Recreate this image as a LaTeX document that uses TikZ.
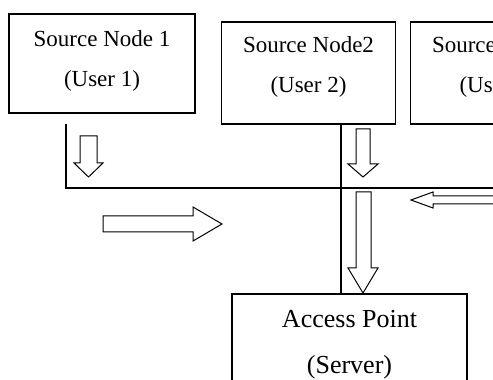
\documentclass[tikz,border=0pt]{standalone}
\usepackage{fontspec}
\setmainfont{Liberation Serif}

\begin{document}
\begin{tikzpicture}[x=1pt,y=1pt,every node/.style={draw, line width=1.3pt, align=center, inner sep=0pt},srcbox/.style={minimum width=174pt, minimum height=102pt, text depth=16pt, font=\fontsize{23}{40}\selectfont},apbox/.style={minimum width=235pt, minimum height=110pt, text depth=14pt, font=\fontsize{26}{46}\selectfont},busline/.style={line width=1.3pt},hollow/.style={draw, line width=1pt, fill=white, line join=miter}]
\useasboundingbox (0,0) rectangle (493,380);
\clip (0,0) rectangle (493,380);
\node[srcbox, minimum width=186pt, minimum height=99pt, text depth=9pt] (src1) at (102,316.5) {Source Node 1\\(User 1)};
\node[srcbox] (src2) at (308.5,307) {Source Node2\\(User 2)};
\node[srcbox] (src3) at (497.5,307) {Source Node3\\(User 3)};
\node[apbox] (ap) at (349.5,31) {Access Point\\(Server)};
% bus lines
\coordinate (start1) at (66,256);
\coordinate (corner) at (66,192);
\coordinate (busend) at (500,192);
\coordinate (drop) at (341,0);
\draw[busline] (start1) -- (corner) -- (busend);
\draw[busline] (src2.south -| drop) -- (ap.north -| drop);
% hollow arrows
\draw[hollow] (80,244) -- (97,244) -- (97,217) -- (103,217) -- (88.5,203) -- (74,217) -- (80,217) -- cycle;
\draw[hollow] (356,251) -- (370,251) -- (370,216) -- (378,216) -- (363,203) -- (348,216) -- (356,216) -- cycle;
\draw[hollow] (356,188) -- (371,188) -- (371,112) -- (378,112) -- (363,87) -- (348,112) -- (356,112) -- cycle;
\draw[hollow] (103,164) -- (193,164) -- (193,173) -- (222,156) -- (193,139) -- (193,148) -- (103,148) -- cycle;
\draw[hollow] (500,184) -- (433,184) -- (433,188) -- (411,180) -- (433,172) -- (433,176) -- (500,176) -- cycle;
\end{tikzpicture}
\end{document}
